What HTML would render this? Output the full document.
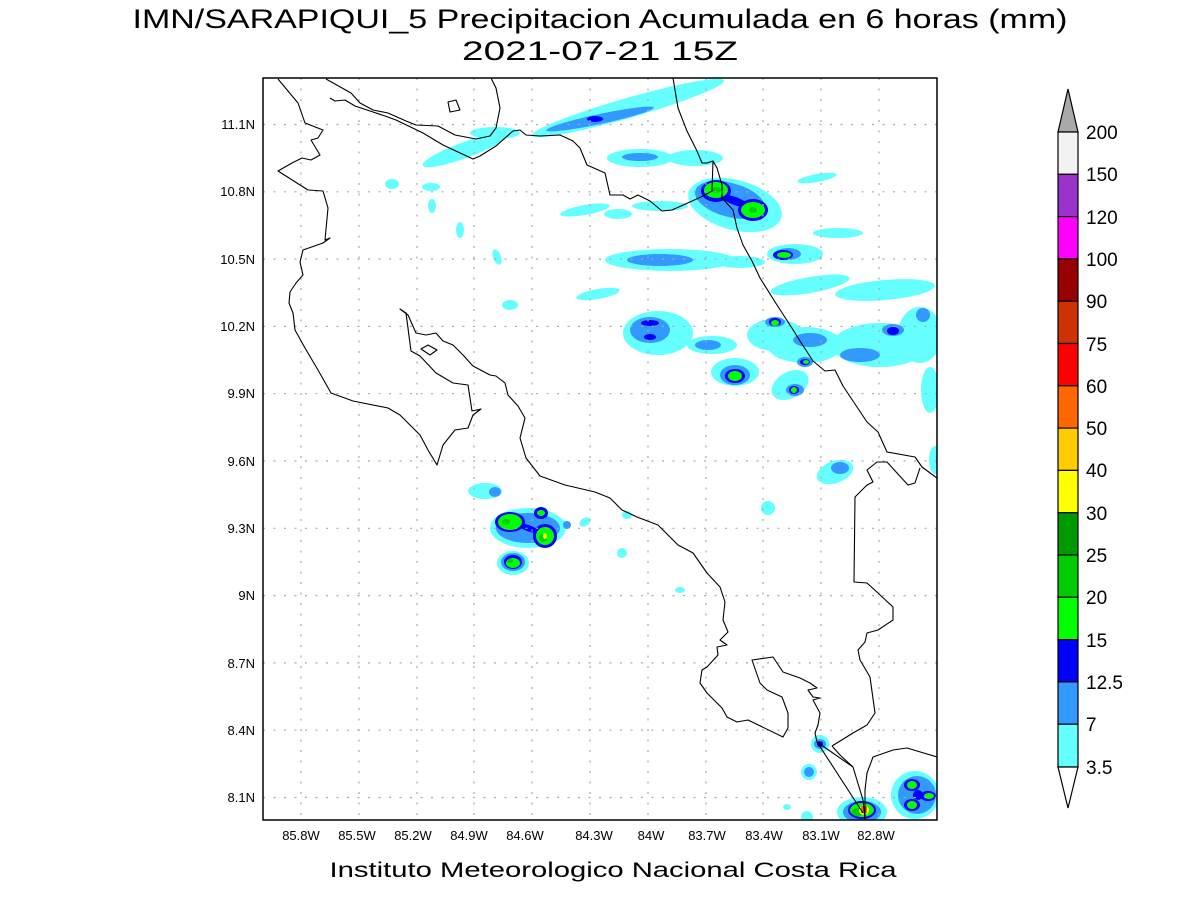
<!DOCTYPE html>
<html><head><meta charset="utf-8"><style>
html,body{margin:0;padding:0;background:#fff}
svg{display:block}
text{font-family:"Liberation Sans",sans-serif;fill:#000}
</style></head><body>
<svg width="1200" height="900" viewBox="0 0 1200 900" xmlns="http://www.w3.org/2000/svg">
<defs><clipPath id="c"><rect x="263" y="78" width="674" height="742"/></clipPath></defs>
<text x="600" y="28" font-size="27" text-anchor="middle" textLength="935" lengthAdjust="spacingAndGlyphs" fill="#111">IMN/SARAPIQUI_5 Precipitacion Acumulada en 6 horas (mm)</text>
<text x="600" y="60" font-size="27" text-anchor="middle" textLength="276" lengthAdjust="spacingAndGlyphs" fill="#111">2021-07-21 15Z</text>
<g clip-path="url(#c)">
<g fill="#66ffff">
<ellipse cx="628" cy="108" rx="100" ry="10" transform="rotate(-16 628 108)"/>
<ellipse cx="465" cy="150" rx="45" ry="8" transform="rotate(-20 465 150)"/>
<ellipse cx="495" cy="133" rx="25" ry="6"/>
<ellipse cx="392" cy="184" rx="7" ry="5"/>
<ellipse cx="431" cy="187" rx="9" ry="4"/>
<ellipse cx="432" cy="206" rx="4" ry="7"/>
<ellipse cx="460" cy="230" rx="4" ry="8"/>
<ellipse cx="497" cy="257" rx="4" ry="8" transform="rotate(-20 497 257)"/>
<ellipse cx="510" cy="305" rx="8" ry="5"/>
<ellipse cx="585" cy="210" rx="25" ry="5" transform="rotate(-10 585 210)"/>
<ellipse cx="598" cy="294" rx="22" ry="5" transform="rotate(-10 598 294)"/>
<ellipse cx="640" cy="158" rx="33" ry="9"/>
<ellipse cx="695" cy="158" rx="28" ry="8"/>
<ellipse cx="735" cy="205" rx="48" ry="25" transform="rotate(15 735 205)"/>
<ellipse cx="660" cy="206" rx="28" ry="5"/>
<ellipse cx="618" cy="214" rx="14" ry="5"/>
<ellipse cx="670" cy="260" rx="65" ry="11"/>
<ellipse cx="740" cy="262" rx="25" ry="6"/>
<ellipse cx="795" cy="254" rx="28" ry="10"/>
<ellipse cx="838" cy="233" rx="25" ry="5"/>
<ellipse cx="817" cy="178" rx="20" ry="4" transform="rotate(-10 817 178)"/>
<ellipse cx="810" cy="285" rx="40" ry="8" transform="rotate(-10 810 285)"/>
<ellipse cx="885" cy="290" rx="50" ry="10" transform="rotate(-5 885 290)"/>
<ellipse cx="658" cy="333" rx="35" ry="22"/>
<ellipse cx="712" cy="345" rx="25" ry="9"/>
<ellipse cx="735" cy="372" rx="24" ry="14"/>
<ellipse cx="775" cy="335" rx="28" ry="16"/>
<ellipse cx="805" cy="345" rx="38" ry="18"/>
<ellipse cx="790" cy="385" rx="20" ry="13" transform="rotate(-30 790 385)"/>
<ellipse cx="880" cy="345" rx="48" ry="22"/>
<ellipse cx="920" cy="335" rx="22" ry="28"/>
<ellipse cx="930" cy="390" rx="9" ry="23"/>
<ellipse cx="835" cy="472" rx="19" ry="11" transform="rotate(-20 835 472)"/>
<ellipse cx="768" cy="508" rx="7" ry="7"/>
<ellipse cx="935" cy="460" rx="6" ry="14"/>
<ellipse cx="485" cy="491" rx="17" ry="8"/>
<ellipse cx="528" cy="528" rx="38" ry="20"/>
<ellipse cx="513" cy="563" rx="16" ry="12"/>
<ellipse cx="562" cy="525" rx="6" ry="5"/>
<ellipse cx="585" cy="522" rx="6" ry="4" transform="rotate(-30 585 522)"/>
<ellipse cx="627" cy="515" rx="5" ry="4"/>
<ellipse cx="622" cy="553" rx="5" ry="5"/>
<ellipse cx="680" cy="590" rx="5" ry="3"/>
<ellipse cx="820" cy="744" rx="9" ry="9"/>
<ellipse cx="809" cy="772" rx="8" ry="8"/>
<ellipse cx="787" cy="807" rx="4" ry="3"/>
<ellipse cx="807" cy="817" rx="6" ry="6"/>
<ellipse cx="862" cy="812" rx="25" ry="15"/>
<ellipse cx="915" cy="795" rx="24" ry="24"/>
</g>
<g fill="#3399ff">
<ellipse cx="600" cy="119" rx="55" ry="5" transform="rotate(-12 600 119)"/>
<ellipse cx="640" cy="157" rx="18" ry="4"/>
<ellipse cx="730" cy="200" rx="36" ry="17" transform="rotate(15 730 200)"/>
<ellipse cx="660" cy="260" rx="33" ry="6"/>
<ellipse cx="788" cy="254" rx="13" ry="6"/>
<ellipse cx="650" cy="330" rx="20" ry="13"/>
<ellipse cx="708" cy="345" rx="13" ry="5"/>
<ellipse cx="735" cy="375" rx="15" ry="10"/>
<ellipse cx="775" cy="322" rx="10" ry="5"/>
<ellipse cx="810" cy="340" rx="17" ry="7"/>
<ellipse cx="805" cy="362" rx="8" ry="5"/>
<ellipse cx="795" cy="390" rx="9" ry="6"/>
<ellipse cx="860" cy="355" rx="20" ry="7"/>
<ellipse cx="893" cy="330" rx="11" ry="6"/>
<ellipse cx="923" cy="315" rx="7" ry="7"/>
<ellipse cx="840" cy="468" rx="9" ry="6"/>
<ellipse cx="495" cy="492" rx="6" ry="5"/>
<ellipse cx="528" cy="528" rx="32" ry="15"/>
<ellipse cx="513" cy="562" rx="12" ry="9"/>
<ellipse cx="567" cy="525" rx="4" ry="4"/>
<ellipse cx="820" cy="744" rx="6" ry="5"/>
<ellipse cx="809" cy="772" rx="5" ry="5"/>
<ellipse cx="862" cy="812" rx="19" ry="11"/>
<ellipse cx="917" cy="795" rx="19" ry="19"/>
</g>
<g fill="#0000ff">
<ellipse cx="595" cy="119" rx="8" ry="3"/>
<ellipse cx="716" cy="191" rx="15" ry="11"/>
<ellipse cx="753" cy="210" rx="15" ry="11"/>
<ellipse cx="735" cy="201" rx="14" ry="4" transform="rotate(20 735 201)"/>
<ellipse cx="650" cy="323" rx="9" ry="3"/>
<ellipse cx="650" cy="337" rx="6" ry="3"/>
<ellipse cx="735" cy="376" rx="10" ry="7"/>
<ellipse cx="783" cy="255" rx="10" ry="5"/>
<ellipse cx="775" cy="322" rx="6" ry="4"/>
<ellipse cx="805" cy="362" rx="5" ry="3"/>
<ellipse cx="794" cy="390" rx="5" ry="4"/>
<ellipse cx="893" cy="331" rx="6" ry="4"/>
<ellipse cx="510" cy="522" rx="15" ry="10"/>
<ellipse cx="545" cy="536" rx="12" ry="12"/>
<ellipse cx="541" cy="513" rx="7" ry="6"/>
<ellipse cx="528" cy="528" rx="14" ry="3" transform="rotate(20 528 528)"/>
<ellipse cx="513" cy="562" rx="9" ry="7"/>
<ellipse cx="820" cy="744" rx="3" ry="3"/>
<ellipse cx="862" cy="810" rx="14" ry="9"/>
<ellipse cx="912" cy="785" rx="8" ry="6"/>
<ellipse cx="912" cy="805" rx="8" ry="6"/>
<ellipse cx="928" cy="796" rx="8" ry="5"/>
<ellipse cx="918" cy="795" rx="5" ry="5"/>
</g>
<g fill="#00ff00">
<ellipse cx="716" cy="190" rx="12" ry="8"/>
<ellipse cx="753" cy="210" rx="12" ry="8"/>
<ellipse cx="735" cy="376" rx="7" ry="5"/>
<ellipse cx="784" cy="255" rx="7" ry="3"/>
<ellipse cx="775" cy="323" rx="4" ry="3"/>
<ellipse cx="806" cy="362" rx="3" ry="2"/>
<ellipse cx="794" cy="390" rx="3" ry="3"/>
<ellipse cx="510" cy="522" rx="12" ry="8"/>
<ellipse cx="545" cy="536" rx="9" ry="9"/>
<ellipse cx="541" cy="513" rx="4" ry="3"/>
<ellipse cx="513" cy="563" rx="7" ry="5"/>
<ellipse cx="862" cy="810" rx="12" ry="7"/>
<ellipse cx="912" cy="785" rx="5" ry="4"/>
<ellipse cx="912" cy="805" rx="5" ry="4"/>
<ellipse cx="929" cy="796" rx="5" ry="3"/>
</g>
<g fill="#00cc00"><ellipse cx="506" cy="522" rx="4" ry="3"/><ellipse cx="543" cy="538" rx="4" ry="4"/><ellipse cx="510" cy="561" rx="3" ry="2"/><ellipse cx="858" cy="812" rx="6" ry="4"/><ellipse cx="716" cy="190" rx="5" ry="3"/><ellipse cx="753" cy="210" rx="4" ry="3"/></g>
<ellipse cx="545" cy="536" rx="2" ry="3" fill="#ffff00"/>
<ellipse cx="864" cy="810" rx="5" ry="5" fill="#ffff00"/>
<rect x="861" y="806" width="6" height="7" fill="#ff6600"/>
<g stroke="#aaa" stroke-width="1.2" stroke-dasharray="2,8.5" fill="none">
<path d="M301 78V820M359 78V820M417 78V820M474 78V820M532 78V820M590 78V820M648 78V820M706 78V820M763 78V820M821 78V820M879 78V820"/>
<path d="M263 124.5H937M263 191.8H937M263 259.1H937M263 326.4H937M263 393.7H937M263 461H937M263 528.3H937M263 595.6H937M263 662.9H937M263 730.2H937M263 797.5H937"/>
</g>
<g stroke="#000" stroke-width="1.1" fill="none" stroke-linejoin="round">
<path d="M278 79L298 103L305 123L323 130L318 138L311 140L320 155L311 160L302 158L292 163L278 171L308 190L323 191L328 208L325 240L330 238L323 243L303 250L300 262L303 275L296 283L290 292L289 303L293 313L295 330L305 348L318 370L331 393L353 401L388 408L400 415L420 435L428 450L437 465L443 445L455 430L468 428L473 415L481 409L472 411L468 385L453 383L436 373L420 356L411 351L406 313L400 309L408 315L416 333L426 335L436 333L443 341L453 345L463 355L473 366L490 375L496 376L505 383L508 395L518 406L525 418L520 438L526 458L540 476L565 485L595 492L610 498L622 510L637 517L658 525L678 545L693 553L707 573L720 587L725 602L723 620L728 632L720 640L727 645L717 647L718 655L707 667L702 670L700 683L707 693L722 708L727 717L737 722L748 720L783 737L788 728L788 713L782 697L767 690L760 683L752 660L773 657L783 672L800 678L810 683L817 688L808 690L813 697L820 698L813 700L820 713L818 725L815 733L817 742L863 813"/>
<path d="M817 742L853 767L863 800L865 820"/>
<path d="M832 746L840 755L853 767"/>
<path d="M865 820L865 790L867 773L873 757L893 750L907 748L937 757"/>
<path d="M937 478L922 467L915 457L887 452L878 432L867 422"/>
<path d="M920 468L915 483L908 485L897 473L887 462L877 462L867 470L873 482L867 485L855 497L854 582L867 583L878 593L893 607L893 620L878 630L867 633L865 642L858 650L860 660L870 677L875 713L867 725L853 733L832 746"/>
<path d="M673 78L678 108L687 131L697 151L702 163L707 163L713 161L712 191L703 196L690 202L672 210L662 211L650 201L638 195L630 199L623 195L610 195L605 173L587 165L580 148L573 141L560 135L540 136L526 135L520 130L513 131L496 146L480 156L473 159L443 145L423 133L396 120L385 116L370 111L355 106L345 100L335 101L330 98"/>
<path d="M713 161L717 168L722 185L722 198L733 210L737 228L743 245L752 261L760 278L777 305L790 325L800 341L813 361L825 371L835 370L843 386L863 416L867 422"/>
<path d="M326 79L351 93L360 103L373 110L388 113L406 121L416 125L438 126L455 135L476 139L490 136L496 128L500 108L496 88L491 78"/>
<path d="M448 102L456 100L460 110L450 112Z"/>
<path d="M421 349L428 345L437 350L430 355Z"/>
</g>
</g>
<rect x="263" y="78" width="674" height="742" fill="none" stroke="#000" stroke-width="1.5"/>
<g font-size="13" text-anchor="end">
<text x="255" y="129">11.1N</text><text x="255" y="196">10.8N</text><text x="255" y="264">10.5N</text><text x="255" y="331">10.2N</text><text x="255" y="398">9.9N</text><text x="255" y="466">9.6N</text><text x="255" y="533">9.3N</text><text x="255" y="600">9N</text><text x="255" y="668">8.7N</text><text x="255" y="735">8.4N</text><text x="255" y="802">8.1N</text>
</g>
<g font-size="13" text-anchor="middle">
<text x="301" y="840">85.8W</text><text x="357" y="840">85.5W</text><text x="413" y="840">85.2W</text><text x="469" y="840">84.9W</text><text x="525" y="840">84.6W</text><text x="594" y="840">84.3W</text><text x="651" y="840">84W</text><text x="707" y="840">83.7W</text><text x="764" y="840">83.4W</text><text x="821" y="840">83.1W</text><text x="876" y="840">82.8W</text>
</g>
<text x="613" y="877" font-size="21" text-anchor="middle" textLength="567" lengthAdjust="spacingAndGlyphs" fill="#444">Instituto Meteorologico Nacional Costa Rica</text>
<g stroke="#000" stroke-width="1.2">
<polygon points="1058,132 1068,89 1078,132" fill="#a9a9a9"/>
<rect x="1058" y="132" width="20" height="42.3" fill="#f2f2f2"/>
<rect x="1058" y="174.3" width="20" height="42.3" fill="#9933cc"/>
<rect x="1058" y="216.6" width="20" height="42.3" fill="#ff00ff"/>
<rect x="1058" y="258.9" width="20" height="42.3" fill="#990000"/>
<rect x="1058" y="301.2" width="20" height="42.3" fill="#cc3300"/>
<rect x="1058" y="343.5" width="20" height="42.3" fill="#ff0000"/>
<rect x="1058" y="385.8" width="20" height="42.3" fill="#ff6600"/>
<rect x="1058" y="428.1" width="20" height="42.3" fill="#ffcc00"/>
<rect x="1058" y="470.4" width="20" height="42.3" fill="#ffff00"/>
<rect x="1058" y="512.7" width="20" height="42.3" fill="#009900"/>
<rect x="1058" y="555" width="20" height="42.3" fill="#00cc00"/>
<rect x="1058" y="597.3" width="20" height="42.3" fill="#00ff00"/>
<rect x="1058" y="639.6" width="20" height="42.3" fill="#0000ff"/>
<rect x="1058" y="681.9" width="20" height="42.3" fill="#3399ff"/>
<rect x="1058" y="724.2" width="20" height="42.8" fill="#66ffff"/>
<polygon points="1058,767 1068,808 1078,767" fill="#fff"/>
</g>
<g font-size="19">
<text x="1086" y="139">200</text><text x="1086" y="181">150</text><text x="1086" y="224">120</text><text x="1086" y="266">100</text><text x="1086" y="308">90</text><text x="1086" y="351">75</text><text x="1086" y="393">60</text><text x="1086" y="435">50</text><text x="1086" y="477">40</text><text x="1086" y="520">30</text><text x="1086" y="562">25</text><text x="1086" y="604">20</text><text x="1086" y="647">15</text><text x="1086" y="689">12.5</text><text x="1086" y="731">7</text><text x="1086" y="774">3.5</text>
</g>
</svg>
</body></html>
